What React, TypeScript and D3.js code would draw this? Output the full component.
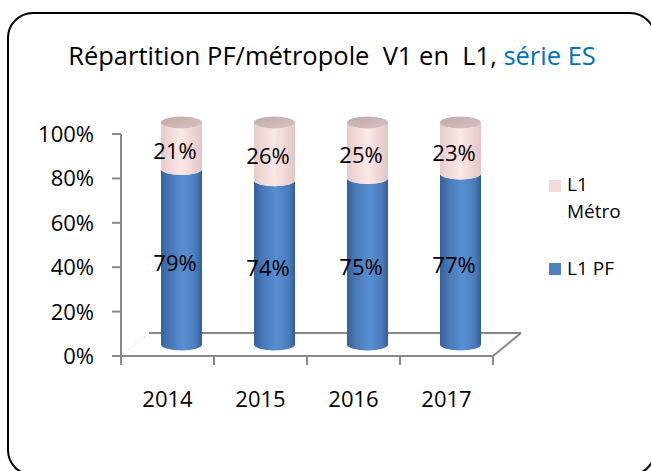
import React from 'react';
import * as d3 from 'd3';

// valeurs
const years = ['2014', '2015', '2016', '2017'];
const pfValues = [79, 74, 75, 77];
const metroValues = [21, 26, 25, 23];
const yTicks = [0, 20, 40, 60, 80, 100];
const seriesNames = ['L1 Métro', 'L1 PF'];

const FONT = "'Open Sans', sans-serif";

const App: React.FC = () => {
  const width = 651;
  const height = 471;

  // profondeur 3D du plancher
  const depthX = 28;
  const depthY = -23;

  const x = d3.scaleBand<string>().domain(years).range([121, 493]).paddingInner(0).paddingOuter(0);
  const y = d3.scaleLinear().domain([0, 100]).range([356, 134]);

  const rx = 20.5;
  const ry = 6;
  const barX = (d: string) => (x(d) as number) + x.bandwidth() / 2 + depthX / 2;
  const barY = (v: number) => y(v) + depthY / 2;

  const bodyPath = (cx: number, y0: number, y1: number) =>
    `M${cx - rx},${y1} L${cx - rx},${y0} A${rx},${ry} 0 0 0 ${cx + rx},${y0} L${cx + rx},${y1} A${rx},${ry} 0 0 1 ${cx - rx},${y1} Z`;

  const axisColor = '#888888';

  return (
    <svg width={width} height={height} style={{ position: 'absolute', left: 0, top: 0, background: '#fff' }}>
      <defs>
        <linearGradient id="blueBody" x1="0" x2="1" y1="0" y2="0">
          <stop offset="0" stopColor="#36609a" />
          <stop offset="0.2" stopColor="#4777b6" />
          <stop offset="0.55" stopColor="#5a8fd3" />
          <stop offset="0.85" stopColor="#4a7cbc" />
          <stop offset="1" stopColor="#345c93" />
        </linearGradient>
        <linearGradient id="pinkBody" x1="0" x2="1" y1="0" y2="0">
          <stop offset="0" stopColor="#e6cccb" />
          <stop offset="0.5" stopColor="#fbe8e8" />
          <stop offset="1" stopColor="#e2c6c5" />
        </linearGradient>
        <linearGradient id="pinkTop" x1="0" x2="1" y1="0" y2="1">
          <stop offset="0" stopColor="#c2aaaa" />
          <stop offset="1" stopColor="#d6c0c0" />
        </linearGradient>
      </defs>

      <rect x={8} y={13} width={647} height={462} rx={25} fill="#fff" stroke="#000" strokeWidth={2} />

      <text x={332} y={65} textAnchor="middle" fontFamily={FONT} fontSize={25.5} fill="#000" style={{ whiteSpace: 'pre' }}>
        {'Répartition PF/métropole  V1 en  L1, '}
        <tspan fill="#0070c0">série ES</tspan>
      </text>

      {/* plancher */}
      <g stroke={axisColor} fill="none">
        <line x1={121 + depthX} y1={356 + depthY} x2={493 + depthX} y2={356 + depthY} strokeWidth={2} />
        <line x1={493} y1={356} x2={493 + depthX} y2={356 + depthY} strokeWidth={2} />
        <line x1={121} y1={356} x2={121 + depthX} y2={356 + depthY} strokeWidth={1} strokeDasharray="1,2" stroke="#c8c8c8" />
      </g>

      {/* cylindres */}
      {years.map((yr, i) => {
        const cx = barX(yr);
        const b0 = barY(0);
        const b1 = barY(pfValues[i]);
        const b2 = barY(pfValues[i] + metroValues[i]);
        return (
          <g key={yr}>
            <path d={bodyPath(cx, b0, b1)} fill="url(#blueBody)" />
            <path d={bodyPath(cx, b1, b2)} fill="url(#pinkBody)" />
            <ellipse cx={cx} cy={b2} rx={rx} ry={ry} fill="url(#pinkTop)" />
          </g>
        );
      })}

      {/* axe vertical */}
      <g stroke={axisColor} strokeWidth={2}>
        <line x1={121} y1={y(100)} x2={121} y2={y(0)} />
        {yTicks.map(t => (
          <line key={t} x1={112} x2={121} y1={y(t)} y2={y(t)} />
        ))}
      </g>
      {yTicks.map(t => (
        <text key={t} x={94} y={y(t) + 8} textAnchor="end" fontFamily={FONT} fontSize={22} fill="#000">
          {`${t}%`}
        </text>
      ))}

      {/* axe horizontal */}
      <g stroke={axisColor} strokeWidth={2}>
        <line x1={121} y1={356} x2={493} y2={356} />
        {[...years.map(d => x(d) as number), 493].map((px, i) => (
          <line key={i} x1={px} x2={px} y1={356} y2={365} />
        ))}
      </g>
      {years.map(yr => (
        <text key={yr} x={(x(yr) as number) + x.bandwidth() / 2} y={407} textAnchor="middle" fontFamily={FONT} fontSize={22} fill="#000">
          {yr}
        </text>
      ))}

      {/* étiquettes de données */}
      {years.map((yr, i) => {
        const cx = barX(yr) - 6.5;
        const b0 = barY(0);
        const b1 = barY(pfValues[i]);
        const b2 = barY(pfValues[i] + metroValues[i]);
        return (
          <g key={yr} fontFamily={FONT} fontSize={22} fill="#000" textAnchor="middle">
            <text x={cx} y={(b0 + b1) / 2 + 5} dominantBaseline="central">{`${pfValues[i]}%`}</text>
            <text x={cx} y={(b1 + b2) / 2 + 4} dominantBaseline="central">{`${metroValues[i]}%`}</text>
          </g>
        );
      })}

      {/* légende */}
      <rect x={549} y={180} width={12} height={12} fill="#f2dcdb" />
      <text x={567} y={191} fontFamily={FONT} fontSize={19} fill="#000">
        <tspan x={567}>L1</tspan>
        <tspan x={567} dy={27}>{seriesNames[0].split(' ')[1]}</tspan>
      </text>
      <rect x={549} y={263} width={12} height={12} fill="#4f81bd" />
      <text x={567} y={275} fontFamily={FONT} fontSize={19} fill="#000">{seriesNames[1]}</text>
    </svg>
  );
};

export default App;
